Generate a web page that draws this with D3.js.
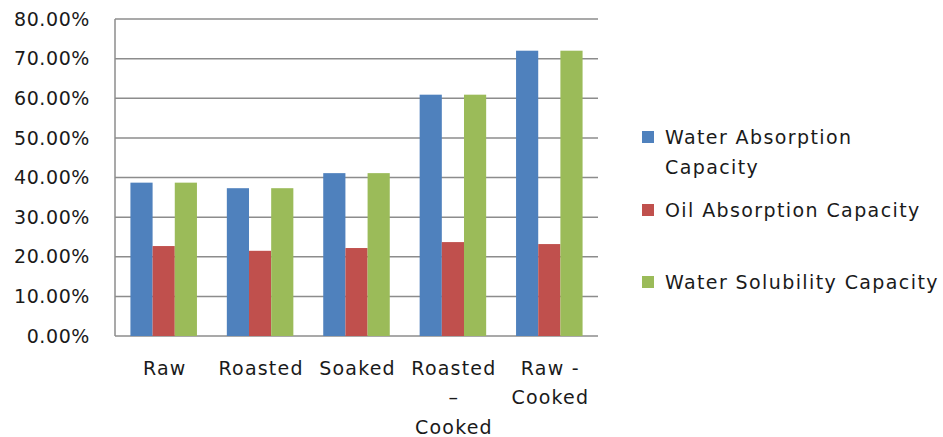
<!DOCTYPE html>
<html>
<head>
<meta charset="utf-8">
<script src="https://cdn.jsdelivr.net/npm/d3@7"></script>
<style>
  body { margin: 0; background: #fff; }
  text { font-family: 'DejaVu Sans', Verdana, sans-serif; fill: #1a1a1a; }
</style>
</head>
<body>
<div id="chart"></div>
<script>
const categories = [['Raw'], ['Roasted'], ['Soaked'], ['Roasted', '\u2013', 'Cooked'], ['Raw -', 'Cooked']];
const seriesNames = [['Water Absorption', 'Capacity'], ['Oil Absorption Capacity'], ['Water Solubility Capacity']];
const waterAbsorption = [38.7, 37.3, 41.1, 60.9, 72.0];
const oilAbsorption = [22.7, 21.5, 22.2, 23.7, 23.2];
const waterSolubility = [38.7, 37.3, 41.1, 60.9, 72.0];
const yTicks = [0, 10, 20, 30, 40, 50, 60, 70, 80];

const colors = ['#4f81bd', '#c0504d', '#9bbb59'];
const series = [waterAbsorption, oilAbsorption, waterSolubility];

const width = 943, height = 437;
const margin = { left: 115, right: 345, top: 19, bottom: 101 };

const svg = d3.select('#chart').append('svg')
  .attr('width', width)
  .attr('height', height);

const x = d3.scaleBand()
  .domain(d3.range(categories.length))
  .range([margin.left, width - margin.right])
  .paddingInner(0.31)
  .paddingOuter(0.16);

const xs = d3.scaleBand()
  .domain(d3.range(series.length))
  .range([0, x.bandwidth()]);

const y = d3.scaleLinear()
  .domain([0, 80])
  .range([height - margin.bottom, margin.top]);

// gridlines
svg.append('g')
  .selectAll('line')
  .data(yTicks)
  .enter()
  .append('line')
    .attr('x1', margin.left)
    .attr('x2', width - margin.right)
    .attr('y1', d => y(d))
    .attr('y2', d => y(d))
    .attr('stroke', '#8c8c8c')
    .attr('stroke-width', 1.5);

// y axis line
svg.append('line')
  .attr('x1', margin.left)
  .attr('x2', margin.left)
  .attr('y1', y(80))
  .attr('y2', y(0))
  .attr('stroke', '#8c8c8c')
  .attr('stroke-width', 1.5);

// bars
const groups = svg.append('g')
  .selectAll('g')
  .data(categories)
  .enter()
  .append('g')
    .attr('transform', (d, i) => `translate(${x(i)},0)`);

groups.selectAll('rect')
  .data((d, i) => series.map((s, j) => ({ j, v: s[i] })))
  .enter()
  .append('rect')
    .attr('x', d => xs(d.j))
    .attr('width', xs.bandwidth())
    .attr('y', d => y(d.v))
    .attr('height', d => y(0) - y(d.v))
    .attr('fill', d => colors[d.j]);

// y tick labels
svg.append('g')
  .selectAll('text')
  .data(yTicks)
  .enter()
  .append('text')
    .attr('x', 90)
    .attr('y', d => y(d))
    .attr('dy', '0.35em')
    .attr('text-anchor', 'end')
    .style('font-size', '19px')
    .style('letter-spacing', '0.6px')
    .text(d => d.toFixed(2) + '%');

// x labels
groups.append('text')
  .attr('text-anchor', 'middle')
  .style('font-size', '19px')
  .style('letter-spacing', '1.2px')
  .selectAll('tspan')
  .data(d => d)
  .enter()
  .append('tspan')
    .attr('x', x.bandwidth() / 2 + 1)
    .attr('y', (d, k) => 368 + k * 29.5)
    .attr('dy', '0.35em')
    .text(d => d);

// legend
const legendY = [137, 210, 282];
const legend = svg.append('g')
  .selectAll('g')
  .data(seriesNames)
  .enter()
  .append('g')
    .attr('transform', (d, i) => `translate(642,${legendY[i]})`);

legend.append('rect')
  .attr('x', 0)
  .attr('y', -6)
  .attr('width', 12)
  .attr('height', 12)
  .attr('fill', (d, i) => colors[i]);

legend.append('text')
  .style('font-size', '19px')
  .style('letter-spacing', '1.4px')
  .selectAll('tspan')
  .data(d => d)
  .enter()
  .append('tspan')
    .attr('x', 23)
    .attr('y', (d, k) => k * 30)
    .attr('dy', '0.35em')
    .text(d => d);
</script>
</body>
</html>
